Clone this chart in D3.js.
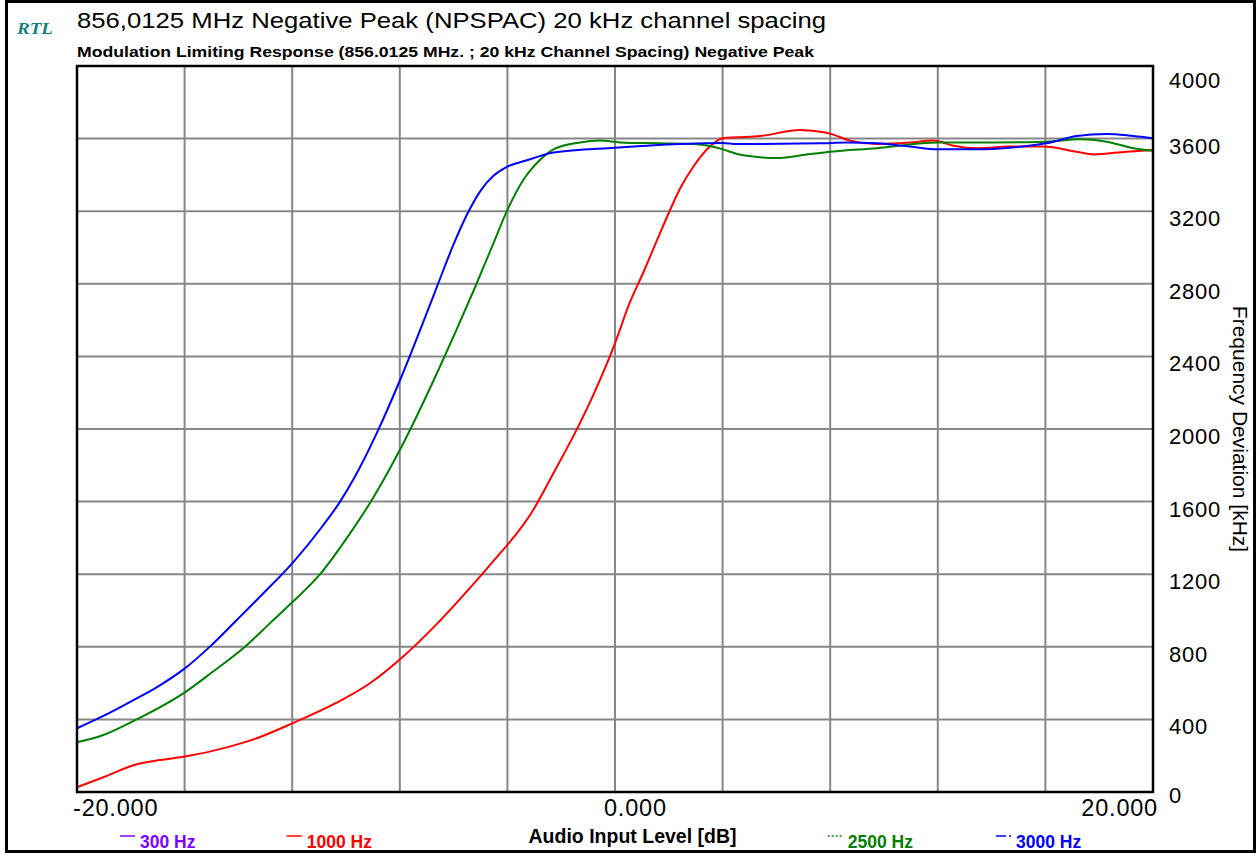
<!DOCTYPE html>
<html>
<head>
<meta charset="utf-8">
<script src="https://cdn.jsdelivr.net/npm/d3@7"></script>
<style>
  body { margin: 0; background: #fff; }
  svg { display: block; }
  text { font-family: "Liberation Sans", Arial, sans-serif; fill: #000; }
</style>
</head>
<body>
<svg id="chart" width="1260" height="854"></svg>
<script>
// ---- data -------------------------------------------------------------
const seriesNames  = ["300 Hz", "1000 Hz", "2500 Hz", "3000 Hz"];
const seriesColors = ["#8000ff", "#ff0000", "#008000", "#0000ff"];

// audio input level (dB) and measured deviation for each tone
const db300  = [];
const dev300 = [];

const db1000  = [-20, -19.02, -17.78, -16.91, -15.99, -14.43, -13.32, -12.0, -10.35, -9.11, -7.99, -6.63, -5.39, -4.65,
                 -3.04, -2.29, -1.43, -0.81, 0, 0.54, 1.04, 1.67, 2.16, 2.42, 2.91, 3.53, 4.0, 4.52,
                 5.39, 6.88, 7.25, 8.02, 8.74, 9.73, 10.97, 11.83, 12.58, 13.45, 14.68, 15.92, 17.16, 17.78, 19.02, 20];
const dev1000 = [26, 81, 153, 176, 195, 246, 296, 378, 492, 599, 731, 925, 1125, 1250,
                 1554, 1756, 1995, 2187, 2472, 2693, 2858, 3078, 3244, 3325, 3445, 3556, 3602, 3607,
                 3614, 3648, 3644, 3626, 3589, 3570, 3578, 3589, 3561, 3547, 3556, 3556, 3528, 3513, 3528, 3537];

const db2500  = [-20, -19.02, -17.78, -15.99, -14.93, -13.82, -12.83, -12.0, -10.97, -9.85, -9.04, -8.0, -6.51, -5.89,
                 -5.14, -4.52, -4.0, -3.41, -2.79, -2.29, -1.30, -0.56, 0.19, 1.67, 2.91, 3.99, 4.55, 5.39, 6.01,
                 7.25, 8.02, 9.73, 12.0, 14.07, 16.02, 17.29, 18.28, 19.27, 20];
const dev2500 = [274, 314, 400, 549, 665, 792, 929, 1045, 1199, 1425, 1609, 1884, 2343, 2548,
                 2803, 3023, 3207, 3372, 3482, 3541, 3579, 3589, 3579, 3574, 3570, 3542, 3515, 3497, 3493,
                 3515, 3528, 3547, 3578, 3579, 3583, 3596, 3583, 3547, 3533];

const db3000  = [-20, -19.02, -17.78, -17.04, -15.99, -15.06, -14.06, -13.07, -12.0, -10.84, -10.22, -9.67, -8.80, -7.99,
                 -7.0, -6.57, -6.01, -5.51, -5.02, -4.52, -4.26, -4.0, -3.53, -3.04, -2.29, 0, 2.42, 4.0, 4.52, 7.62, 8.62,
                 9.73, 10.97, 12.0, 13.45, 14.68, 16.02, 17.16, 18.28, 19.27, 20];
const dev3000 = [351, 419, 516, 577, 681, 801, 948, 1095, 1260, 1471, 1600, 1737, 1995, 2270,
                 2638, 2803, 3014, 3179, 3308, 3395, 3424, 3446, 3470, 3492, 3523, 3550, 3570, 3576, 3570, 3574, 3578,
                 3574, 3556, 3541, 3541, 3550, 3574, 3614, 3626, 3614, 3602];

const xGridValues = [-20, -16, -12, -8, -4, 0, 4, 8, 12, 16, 20];
const xTickValues = [-20, 0, 20];
const xTickLabels = ["-20.000", "0.000", "20.000"];
const yTickValues = [0, 400, 800, 1200, 1600, 2000, 2400, 2800, 3200, 3600, 4000];

const titleText    = "856,0125 MHz Negative Peak (NPSPAC) 20 kHz channel spacing";
const subtitleText = "Modulation Limiting Response (856.0125 MHz. ; 20 kHz Channel Spacing) Negative Peak";
const xAxisTitle   = "Audio Input Level [dB]";
const yAxisTitle   = "Frequency Deviation [kHz]";
const logoText     = "RTL";

// ---- layout -----------------------------------------------------------
const svg = d3.select("#chart");
const W = 1260, H = 854;
const plot = { left: 77, right: 1153, top: 66, bottom: 792 };

const x = d3.scaleLinear().domain([-20, 20]).range([plot.left, plot.right]);
const y = d3.scaleLinear().domain([0, 4000]).range([plot.bottom, plot.top]);

svg.append("rect").attr("width", W).attr("height", H).attr("fill", "#fff");

// outer frame
svg.append("rect")
  .attr("x", 6.5).attr("y", 1.5).attr("width", 1248).attr("height", 850)
  .attr("fill", "none").attr("stroke", "#000").attr("stroke-width", 3);

// grid
const grid = svg.append("g");
grid.selectAll("line.v").data(xGridValues.slice(1, -1)).join("line")
  .attr("x1", d => x(d)).attr("x2", d => x(d))
  .attr("y1", plot.top).attr("y2", plot.bottom)
  .attr("stroke", "#878787").attr("stroke-width", 2);
grid.selectAll("line.h").data(yTickValues.slice(1, -1)).join("line")
  .attr("y1", d => y(d)).attr("y2", d => y(d))
  .attr("x1", plot.left).attr("x2", plot.right)
  .attr("stroke", "#878787").attr("stroke-width", 2);

// curves
const series = [
  { name: seriesNames[0], color: seriesColors[0], xs: db300,  ys: dev300 },
  { name: seriesNames[1], color: seriesColors[1], xs: db1000, ys: dev1000 },
  { name: seriesNames[2], color: seriesColors[2], xs: db2500, ys: dev2500 },
  { name: seriesNames[3], color: seriesColors[3], xs: db3000, ys: dev3000 }
];
const line = d3.line().x(d => x(d[0])).y(d => y(d[1])).curve(d3.curveMonotoneX);
svg.append("g").selectAll("path").data(series.filter(s => s.xs.length)).join("path")
  .attr("d", s => line(d3.zip(s.xs, s.ys)))
  .attr("fill", "none").attr("stroke", s => s.color).attr("stroke-width", 2)
  .attr("stroke-linejoin", "round");

// plot border
svg.append("rect")
  .attr("x", plot.left).attr("y", plot.top)
  .attr("width", plot.right - plot.left).attr("height", plot.bottom - plot.top)
  .attr("fill", "none").attr("stroke", "#000").attr("stroke-width", 2.5);

// right-hand value labels
svg.append("g").selectAll("text").data(yTickValues).join("text")
  .attr("x", plot.right + 16)
  .attr("y", d => Math.min(Math.max(y(d) + 15, 88), 803))
  .attr("font-size", 22).style("letter-spacing", "0.8px")
  .text(d => d);

// bottom level labels
const xLabelAnchor = ["start", "start", "end"];
const xLabelShift = [-4, -11, 5];
svg.append("g").selectAll("text").data(xTickValues).join("text")
  .attr("x", (d, i) => x(d) + xLabelShift[i])
  .attr("y", 816)
  .attr("text-anchor", (d, i) => xLabelAnchor[i])
  .attr("font-size", 23.5).style("letter-spacing", "0.8px")
  .text((d, i) => xTickLabels[i]);

// titles
svg.append("text").attr("x", 17).attr("y", 34)
  .style("font-family", "'Liberation Serif', 'Times New Roman', serif")
  .style("font-style", "italic").style("font-weight", "bold")
  .attr("font-size", 17)
  .style("fill", "#168080")
  .attr("textLength", 36).attr("lengthAdjust", "spacingAndGlyphs")
  .text(logoText);

svg.append("text").attr("x", 77).attr("y", 28)
  .attr("font-size", 22)
  .attr("textLength", 749).attr("lengthAdjust", "spacingAndGlyphs")
  .text(titleText);

svg.append("text").attr("x", 77).attr("y", 57)
  .attr("font-size", 15).attr("font-weight", "bold")
  .attr("textLength", 737).attr("lengthAdjust", "spacingAndGlyphs")
  .text(subtitleText);

svg.append("text").attr("x", 632.5).attr("y", 843)
  .attr("text-anchor", "middle")
  .attr("font-size", 19.5).attr("font-weight", "bold")
  .text(xAxisTitle);

svg.append("text")
  .attr("transform", `translate(1233, ${(plot.top + plot.bottom) / 2}) rotate(90)`)
  .attr("text-anchor", "middle")
  .attr("font-size", 21)
  .text(yAxisTitle);

// legend
const legendX = [140, 306.7, 847.7, 1016];
const legendDash = [null, null, "2,2", "10,3,2"];
const legend = svg.append("g").selectAll("g").data(series).join("g")
  .attr("transform", (d, i) => `translate(${legendX[i]}, 848)`);
legend.append("line")
  .attr("x1", -20).attr("x2", -5).attr("y1", -12).attr("y2", -12)
  .attr("stroke", d => d.color).attr("stroke-width", 1.5)
  .attr("stroke-dasharray", (d, i) => legendDash[i]);
legend.append("text")
  .attr("font-size", 17.5).attr("font-weight", "bold")
  .style("fill", d => d.color)
  .text(d => d.name);
</script>
</body>
</html>
